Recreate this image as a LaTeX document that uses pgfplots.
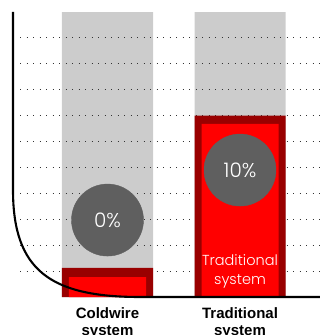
\documentclass[border=0pt]{standalone}
\usepackage{fontspec}
\setmainfont{Liberation Sans}
\newfontfamily\lightfont{Poppins Light}
\usepackage{pgfplots}
\pgfplotsset{compat=1.18}
\definecolor{barbg}{HTML}{CCCCCC}
\definecolor{circ}{HTML}{5F5F5F}
\definecolor{dred}{HTML}{990000}
\definecolor{bred}{HTML}{FF0000}
\begin{document}
\begin{tikzpicture}
\path[use as bounding box] (0pt,0pt) rectangle (320pt,335pt);
\begin{axis}[
  at={(13pt,38pt)}, anchor=south west,
  scale only axis, width=307pt, height=285pt,
  xmin=-0.7132, xmax=1.6038, ymin=0, ymax=11,
  axis line style={draw=none}, tick style={draw=none},
  ytick=\empty, xtick={0,1},
  xticklabels={Coldwire\\system, Traditional\\system},
  xticklabel style={font=\fontsize{15}{17.5}\selectfont\bfseries, align=center, yshift=-7pt},
  clip=false,
]
% background bars
\addplot[ybar, bar width=91pt, fill=barbg, draw=none] coordinates {(0,11) (1,11)};
% dotted grid
\pgfplotsinvokeforeach{1,...,10}{
  \addplot[black!80, line width=1.1pt, dash pattern=on 1.1pt off 5.4pt, no marks] coordinates {(-0.66,#1) (1.6038,#1)};
}
% outer (dark red) bars
\addplot[ybar, bar width=91pt, fill=dred, draw=none] coordinates {(0,1.12) (1,7.0)};
% inner (bright red) bars
\addplot[ybar, bar width=77pt, fill=bred, draw=none] coordinates {(0,0.77) (1,6.68)};
% circles with percentages
\addplot[only marks, mark=*, mark size=36pt, color=circ, mark options={draw=circ, fill=circ},
  point meta=explicit symbolic,
  nodes near coords, nodes near coords align={center},
  every node near coord/.append style={anchor=center, text=white, font=\lightfont\fontsize{20}{24}\selectfont}]
  table[meta=lab] {
x y lab
0 2.97 0\%
1 4.90 10\%
};
\node[text=white, align=center, font=\lightfont\fontsize{14.5}{19}\selectfont] at (axis cs:1,0.97) {Traditional\\system};
\end{axis}
\draw[line width=2.1pt] (13pt,323pt) -- (13pt,145pt) .. controls (13pt,65pt) and (50pt,38pt) .. (140pt,38pt) -- (320pt,38pt);
\end{tikzpicture}
\end{document}
